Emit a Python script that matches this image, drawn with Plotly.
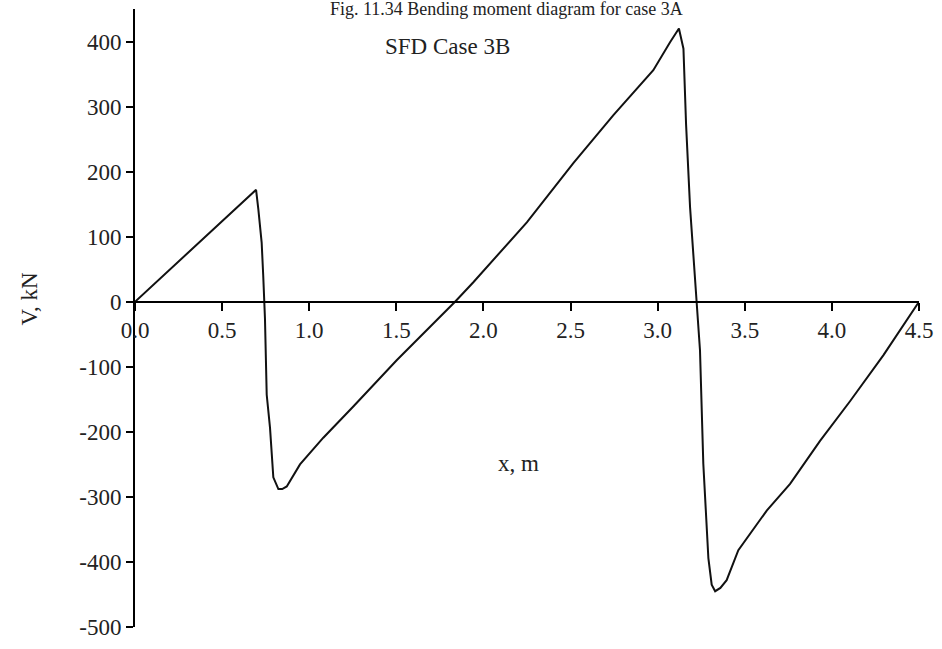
import plotly.graph_objects as go

# Shear force along the beam (x in m, V in kN)
x_m = [0.0, 0.35, 0.695, 0.708, 0.727, 0.736, 0.746, 0.756, 0.775, 0.794, 0.823,
       0.845, 0.871, 0.947, 1.081, 1.253, 1.502, 1.837, 1.942, 2.249, 2.516,
       2.746, 2.975, 3.071, 3.122, 3.148, 3.163, 3.186, 3.224, 3.243, 3.262,
       3.291, 3.31, 3.33, 3.36, 3.396, 3.463, 3.626, 3.76, 3.932, 4.104, 4.296, 4.5]
v_kn = [0, 86, 172, 142, 91, 40, -26, -143, -194, -270, -288,
        -288, -284, -250, -209, -161, -90, 0, 30, 122, 213,
        287, 356, 399, 420, 389, 273, 145, 0, -75, -249,
        -394, -435, -445, -440, -428, -382, -321, -280, -214, -153, -82, 0]

x_ticks = [0.0, 0.5, 1.0, 1.5, 2.0, 2.5, 3.0, 3.5, 4.0, 4.5]
y_ticks = [400, 300, 200, 100, 0, -100, -200, -300, -400, -500]
y_tick_text = [str(v) for v in y_ticks]  # plain hyphen minus signs

FONT = "Liberation Serif"
TXT = "#222222"
Y_MIN, Y_MAX = -500, 450

fig = go.Figure()
fig.add_trace(go.Scatter(
    x=x_m, y=v_kn, mode="lines",
    line=dict(color="#111111", width=2),
    showlegend=False, hoverinfo="skip",
))

fig.update_layout(
    width=942, height=649, autosize=False,
    margin=dict(l=135, r=23, t=9, b=19),
    paper_bgcolor="white", plot_bgcolor="white",
    font=dict(family=FONT, size=23, color=TXT),
    xaxis=dict(
        range=[0, 4.5], tickvals=x_ticks, tickformat=".1f",
        showgrid=False, zeroline=False,
        showline=True, linecolor="black", linewidth=2,
        ticks="outside", ticklen=8, tickwidth=1.5, tickcolor="black",
        anchor="free", position=(0 - Y_MIN) / (Y_MAX - Y_MIN),
        tickfont=dict(family=FONT, size=23, color=TXT),
    ),
    yaxis=dict(
        range=[Y_MIN, Y_MAX], tickvals=y_ticks, ticktext=y_tick_text,
        showgrid=False, zeroline=False,
        showline=True, linecolor="black", linewidth=2,
        ticks="outside", ticklen=7, tickwidth=1.5, tickcolor="black",
        tickfont=dict(family=FONT, size=23, color=TXT),
    ),
    annotations=[
        dict(text="V, kN", xref="paper", yref="paper",
             x=-0.134, y=(630 - 300) / 621, textangle=-90,
             xanchor="center", yanchor="middle",
             showarrow=False, font=dict(family=FONT, size=23, color=TXT)),
        dict(text="x, m", xref="paper", yref="paper",
             x=(518 - 135) / 784, y=(630 - 466) / 621,
             xanchor="center", yanchor="middle",
             showarrow=False, font=dict(family=FONT, size=23, color=TXT)),
        dict(text="SFD Case 3B", xref="paper", yref="paper",
             x=(447 - 135) / 784, y=(630 - 47) / 621,
             xanchor="center", yanchor="middle",
             showarrow=False, font=dict(family=FONT, size=23, color=TXT)),
        dict(text="Fig. 11.34 Bending moment diagram for case 3A",
             xref="paper", yref="paper",
             x=(506 - 135) / 784, y=(630 - 9) / 621,
             xanchor="center", yanchor="middle",
             showarrow=False, font=dict(family=FONT, size=18, color=TXT)),
    ],
)

fig.write_html("out.html")
